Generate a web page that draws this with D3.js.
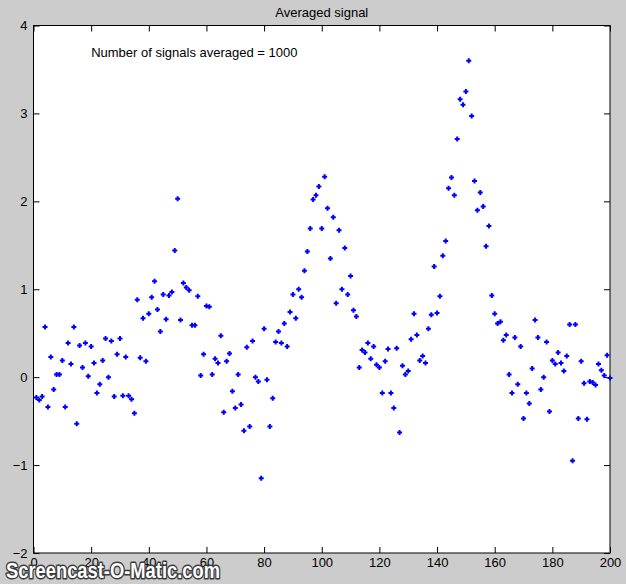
<!DOCTYPE html>
<html>
<head>
<meta charset="utf-8">
<script src="https://cdn.jsdelivr.net/npm/d3@7"></script>
<style>
  html, body { margin: 0; padding: 0; background: #cccccc; }
  svg { display: block; }
  text { font-family: "Liberation Sans", Arial, sans-serif; }
</style>
</head>
<body>
<svg id="chart" width="626" height="584"></svg>
<script>
// ---- data ----
const titleText = "Averaged signal";
const noteText = "Number of signals averaged = 1000";
const xDomain = [0, 200];
const yDomain = [-2, 4];
const xTicks = [0, 20, 40, 60, 80, 100, 120, 140, 160, 180, 200];
const yTicks = [-2, -1, 0, 1, 2, 3, 4];
// averaged signal, samples 1..200
const signal = [
  -0.23, -0.26, -0.22, 0.57, -0.34, 0.23, -0.14, 0.03, 0.03, 0.19,
  -0.34, 0.39, 0.15, 0.57, -0.53, 0.36, 0.11, 0.39, 0.01, 0.35,
  0.16, -0.18, -0.08, 0.19, 0.44, 0.00, 0.41, -0.22, 0.26, 0.44,
  -0.21, 0.23, -0.21, -0.25, -0.41, 0.88, 0.22, 0.67, 0.18, 0.72,
  0.91, 1.09, 0.77, 0.52, 0.94, 0.66, 0.93, 0.97, 1.44, 2.03,
  0.65, 1.07, 1.02, 0.99, 0.59, 0.59, 0.92, 0.02, 0.26, 0.81,
  0.80, 0.03, 0.21, 0.16, 0.47, -0.40, 0.18, 0.27, -0.16, -0.35,
  0.03, -0.31, -0.61, 0.34, -0.56, 0.41, 0.00, -0.05, -1.15, 0.55,
  -0.03, -0.56, -0.24, 0.40, 0.52, 0.39, 0.61, 0.35, 0.74, 0.94,
  0.67, 1.00, 0.91, 1.21, 1.43, 1.69, 2.02, 2.07, 2.17, 1.69,
  2.28, 1.92, 1.35, 1.82, 0.84, 1.67, 1.00, 1.47, 0.94, 1.15,
  0.76, 0.69, 0.11, 0.31, 0.28, 0.39, 0.21, 0.35, 0.14, 0.11,
  -0.18, 0.18, 0.32, -0.18, -0.35, 0.33, -0.63, 0.13, 0.03, 0.07,
  0.43, 0.72, 0.48, 0.19, 0.24, 0.16, 0.55, 0.71, 1.26, 0.73,
  0.92, 1.38, 1.55, 2.15, 2.27, 2.07, 2.71, 3.16, 3.10, 3.25,
  3.60, 2.97, 2.23, 1.90, 2.10, 1.94, 1.49, 1.72, 0.93, 0.72,
  0.61, 0.63, 0.42, 0.48, 0.03, -0.18, 0.45, -0.08, 0.35, -0.47,
  -0.18, -0.30, 0.10, 0.65, 0.45, -0.14, 0.00, 0.40, -0.39, 0.19,
  0.15, 0.28, 0.16, 0.07, 0.24, 0.60, -0.95, 0.60, -0.47, 0.18,
  -0.07, -0.48, -0.05, -0.06, -0.09, 0.15, 0.08, 0.02, 0.25, -0.01
];
const watermark = "Screencast-O-Matic.com";

// ---- layout ----
const plot = { left: 33.5, right: 610, top: 25.5, bottom: 553 };
const svg = d3.select("#chart");

const x = d3.scaleLinear().domain(xDomain).range([plot.left, plot.right]);
const y = d3.scaleLinear().domain(yDomain).range([plot.bottom, plot.top]);

// axes background
svg.append("rect")
  .attr("x", plot.left).attr("y", plot.top)
  .attr("width", plot.right - plot.left).attr("height", plot.bottom - plot.top)
  .attr("fill", "#ffffff");

const tickLen = 6;
function styleAxis(g) {
  g.select(".domain").remove();
  g.selectAll(".tick line").attr("stroke", "#000").attr("stroke-width", 1);
  g.selectAll(".tick text").attr("fill", "#000").style("font-size", "13px")
    .style("font-family", "'Liberation Sans', Arial, sans-serif");
}

// bottom axis (labels), ticks inward
svg.append("g")
  .attr("transform", `translate(0,${plot.bottom})`)
  .call(d3.axisBottom(x).tickValues(xTicks).tickFormat(d3.format("d"))
    .tickSizeInner(-tickLen).tickSizeOuter(0).tickPadding(5))
  .call(styleAxis);
// top axis ticks only
svg.append("g")
  .attr("transform", `translate(0,${plot.top})`)
  .call(d3.axisTop(x).tickValues(xTicks).tickFormat("")
    .tickSizeInner(-tickLen).tickSizeOuter(0))
  .call(styleAxis);
// left axis
svg.append("g")
  .attr("transform", `translate(${plot.left},0)`)
  .call(d3.axisLeft(y).tickValues(yTicks).tickFormat(d3.format("d"))
    .tickSizeInner(-tickLen).tickSizeOuter(0).tickPadding(6))
  .call(styleAxis);
// right axis ticks only
svg.append("g")
  .attr("transform", `translate(${plot.right},0)`)
  .call(d3.axisRight(y).tickValues(yTicks).tickFormat("")
    .tickSizeInner(-tickLen).tickSizeOuter(0))
  .call(styleAxis);

// axes box
svg.append("rect")
  .attr("x", plot.left).attr("y", plot.top)
  .attr("width", plot.right - plot.left).attr("height", plot.bottom - plot.top)
  .attr("fill", "none").attr("stroke", "#000").attr("stroke-width", 1);

// markers
const arm = 2.5;
svg.append("g").selectAll("path")
  .data(signal)
  .join("path")
  .attr("transform", (d, i) => `translate(${x(i + 1)},${y(d)})`)
  .attr("d", `M${-arm},0H${arm}M0,${-arm}V${arm}`)
  .attr("stroke", "#0000ff")
  .attr("stroke-width", 2)
  .attr("fill", "none");

// title
svg.append("text")
  .attr("x", (plot.left + plot.right) / 2)
  .attr("y", 17)
  .attr("text-anchor", "middle")
  .style("font-size", "13px")
  .attr("fill", "#000")
  .text(titleText);

// annotation
svg.append("text")
  .attr("x", x(20))
  .attr("y", 57)
  .style("font-size", "13px")
  .attr("fill", "#000")
  .text(noteText);

// watermark (overlays the first tick labels, as in the reference)
svg.append("text")
  .attr("x", 6)
  .attr("y", 578)
  .attr("textLength", 214)
  .attr("lengthAdjust", "spacingAndGlyphs")
  .style("font-size", "22px")
  .style("font-weight", "bold")
  .attr("fill", "#ffffff")
  .attr("stroke", "#3a3a3a")
  .attr("stroke-width", 3)
  .attr("stroke-linejoin", "round")
  .style("paint-order", "stroke")
  .text(watermark);
</script>
</body>
</html>
